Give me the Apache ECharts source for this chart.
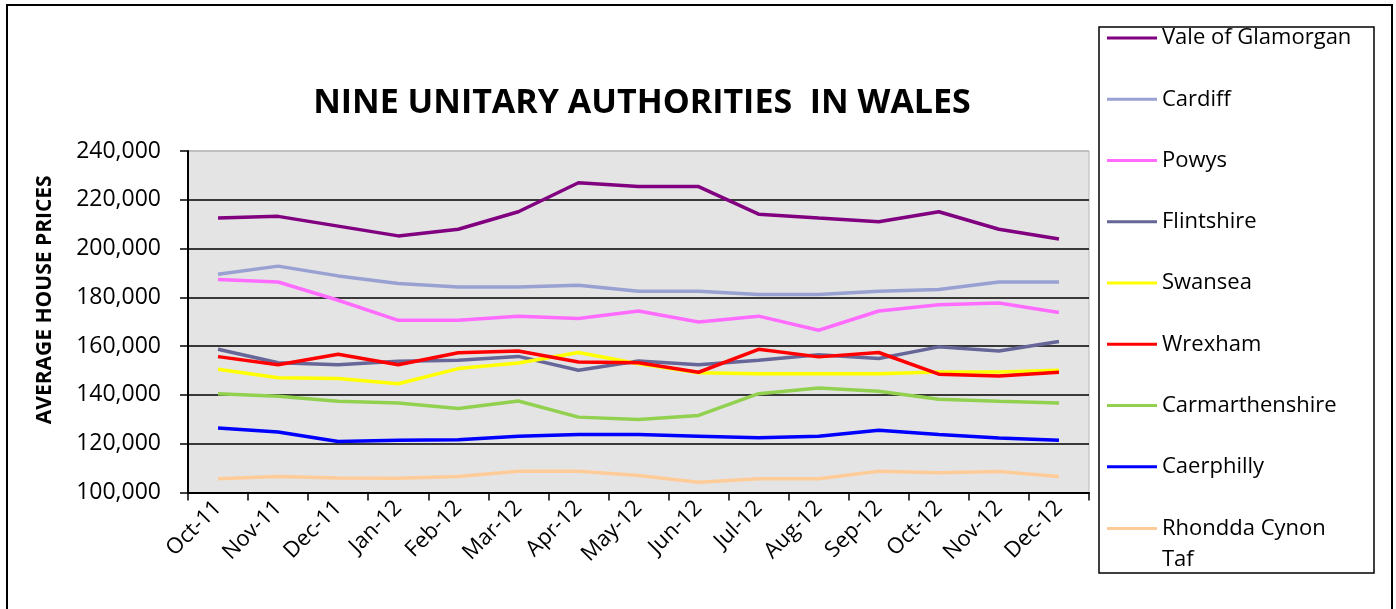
<!DOCTYPE html>
<html>
<head>
<meta charset="utf-8">
<script src="https://cdn.jsdelivr.net/npm/echarts@6/dist/echarts.min.js"></script>
<style>
  html, body { margin: 0; padding: 0; background: #fff; }
  #chart { width: 1396px; height: 609px; }
</style>
</head>
<body>
<div id="chart"></div>
<script>
const months = ['Oct-11', 'Nov-11', 'Dec-11', 'Jan-12', 'Feb-12', 'Mar-12', 'Apr-12', 'May-12',
  'Jun-12', 'Jul-12', 'Aug-12', 'Sep-12', 'Oct-12', 'Nov-12', 'Dec-12']

const valeOfGlamorgan = [212500, 213200, 209200, 205200, 207900, 215100, 227000, 225400, 225400, 214100, 212500, 211000, 215100, 207900, 203900]
const cardiff = [189500, 192800, 188800, 185700, 184200, 184200, 185000, 182500, 182500, 181200, 181200, 182500, 183200, 186300, 186300]
const powys = [187300, 186300, 178800, 170600, 170600, 172300, 171300, 174400, 169900, 172300, 166500, 174400, 177000, 177700, 173800]
const flintshire = [158700, 153200, 152400, 153800, 154200, 155800, 150100, 153900, 152400, 154200, 156500, 154900, 159700, 158000, 161900]
const swansea = [150500, 147000, 146700, 144600, 150800, 153100, 157400, 152800, 149100, 148700, 148700, 148700, 149400, 149400, 150100]
const wrexham = [155700, 152400, 156700, 152400, 157300, 158000, 153500, 153200, 149300, 158700, 155600, 157400, 148500, 147800, 149300]
const carmarthenshire = [140500, 139500, 137400, 136700, 134400, 137500, 130900, 129900, 131600, 140500, 142800, 141500, 138200, 137400, 136700]
const caerphilly = [126400, 124800, 120900, 121400, 121600, 123100, 123800, 123800, 123100, 122400, 123100, 125500, 123800, 122300, 121400]
const rhonddaCynonTaf = [105600, 106600, 105900, 105800, 106600, 108700, 108700, 107000, 104200, 105600, 105600, 108700, 108100, 108600, 106600]

const yTicks = { min: 100000, max: 240000, step: 20000 }

const areas = [
  { name: 'Vale of Glamorgan', data: valeOfGlamorgan, color: '#800080' },
  { name: 'Cardiff', data: cardiff, color: '#99a1d2' },
  { name: 'Powys', data: powys, color: '#ff6cff' },
  { name: 'Flintshire', data: flintshire, color: '#666699' },
  { name: 'Swansea', data: swansea, color: '#ffff00' },
  { name: 'Wrexham', data: wrexham, color: '#ff0000' },
  { name: 'Carmarthenshire', data: carmarthenshire, color: '#92d050' },
  { name: 'Caerphilly', data: caerphilly, color: '#0000ff' },
  { name: 'Rhondda Cynon Taf', data: rhonddaCynonTaf, color: '#ffcc99' }
]

const font = '"Open Sans", "Liberation Sans", sans-serif'
const lastName = areas[areas.length - 1].name

const chart = echarts.init(document.getElementById('chart'))

// gridline at the very top is the plot border, not a black line
const splitColors = []
for (let v = yTicks.min; v <= yTicks.max; v += yTicks.step) {
  splitColors.push(v === yTicks.max ? '#b8b8b8' : '#000')
}

const legendCommon = {
  orient: 'vertical',
  left: 1107,
  padding: 0,
  icon: 'rect',
  itemWidth: 50,
  itemHeight: 3,
  itemGap: 39.25,
  selectedMode: false,
  textStyle: { fontFamily: font, fontSize: 22, lineHeight: 22, color: '#000' }
}

const option = {
  animation: false,
  backgroundColor: '#fff',
  title: {
    text: 'NINE UNITARY AUTHORITIES  IN WALES',
    left: 637,
    top: 81,
    textAlign: 'center',
    textStyle: { fontFamily: font, fontSize: 34, fontWeight: 'bold', color: '#000' }
  },
  legend: [
    Object.assign({}, legendCommon, {
      top: 27,
      data: areas.slice(0, -1).map(a => a.name)
    }),
    Object.assign({}, legendCommon, {
      top: 482,
      data: [lastName],
      formatter: () => ' \nRhondda Cynon\nTaf',
      textStyle: { fontFamily: font, fontSize: 22, lineHeight: 31, color: '#000' }
    })
  ],
  grid: {
    left: 188,
    right: 307,
    top: 151,
    bottom: 116.5,
    show: true,
    backgroundColor: '#e4e4e4',
    borderColor: '#b8b8b8',
    borderWidth: 1
  },
  xAxis: {
    type: 'category',
    data: months,
    boundaryGap: true,
    axisLine: { lineStyle: { color: '#000', width: 2 } },
    axisTick: { show: true, length: 8, lineStyle: { color: '#000', width: 1.5 } },
    axisLabel: {
      rotate: 45,
      margin: 12,
      interval: 0,
      fontFamily: font,
      fontSize: 22,
      color: '#000'
    }
  },
  yAxis: {
    type: 'value',
    min: yTicks.min,
    max: yTicks.max,
    interval: yTicks.step,
    name: 'AVERAGE HOUSE PRICES',
    nameLocation: 'middle',
    nameGap: 132,
    nameTextStyle: {
      fontFamily: font,
      fontSize: 21,
      fontWeight: 'bold',
      color: '#000',
      padding: [0, 0, 0, 44]
    },
    axisLine: { show: true, lineStyle: { color: '#000', width: 2 } },
    axisTick: { show: true, length: 8, lineStyle: { color: '#000', width: 1.5 } },
    axisLabel: {
      margin: 27,
      fontFamily: font,
      fontSize: 23,
      color: '#000',
      formatter: v => v.toLocaleString('en-US')
    },
    splitLine: { show: true, lineStyle: { color: splitColors, width: 1.5 } }
  },
  graphic: [
    {
      type: 'rect',
      shape: { x: 7, y: 5, width: 1385, height: 640 },
      style: { fill: 'none', stroke: '#000', lineWidth: 2 },
      silent: true
    },
    {
      type: 'rect',
      shape: { x: 1099, y: 27, width: 275, height: 546 },
      style: { fill: 'none', stroke: '#000', lineWidth: 1.5 },
      silent: true
    }
  ],
  series: areas.map(a => ({
    name: a.name,
    type: 'line',
    data: a.data,
    symbol: 'none',
    color: a.color,
    lineStyle: { width: 3.5, color: a.color }
  }))
}

chart.setOption(option)
</script>
</body>
</html>
